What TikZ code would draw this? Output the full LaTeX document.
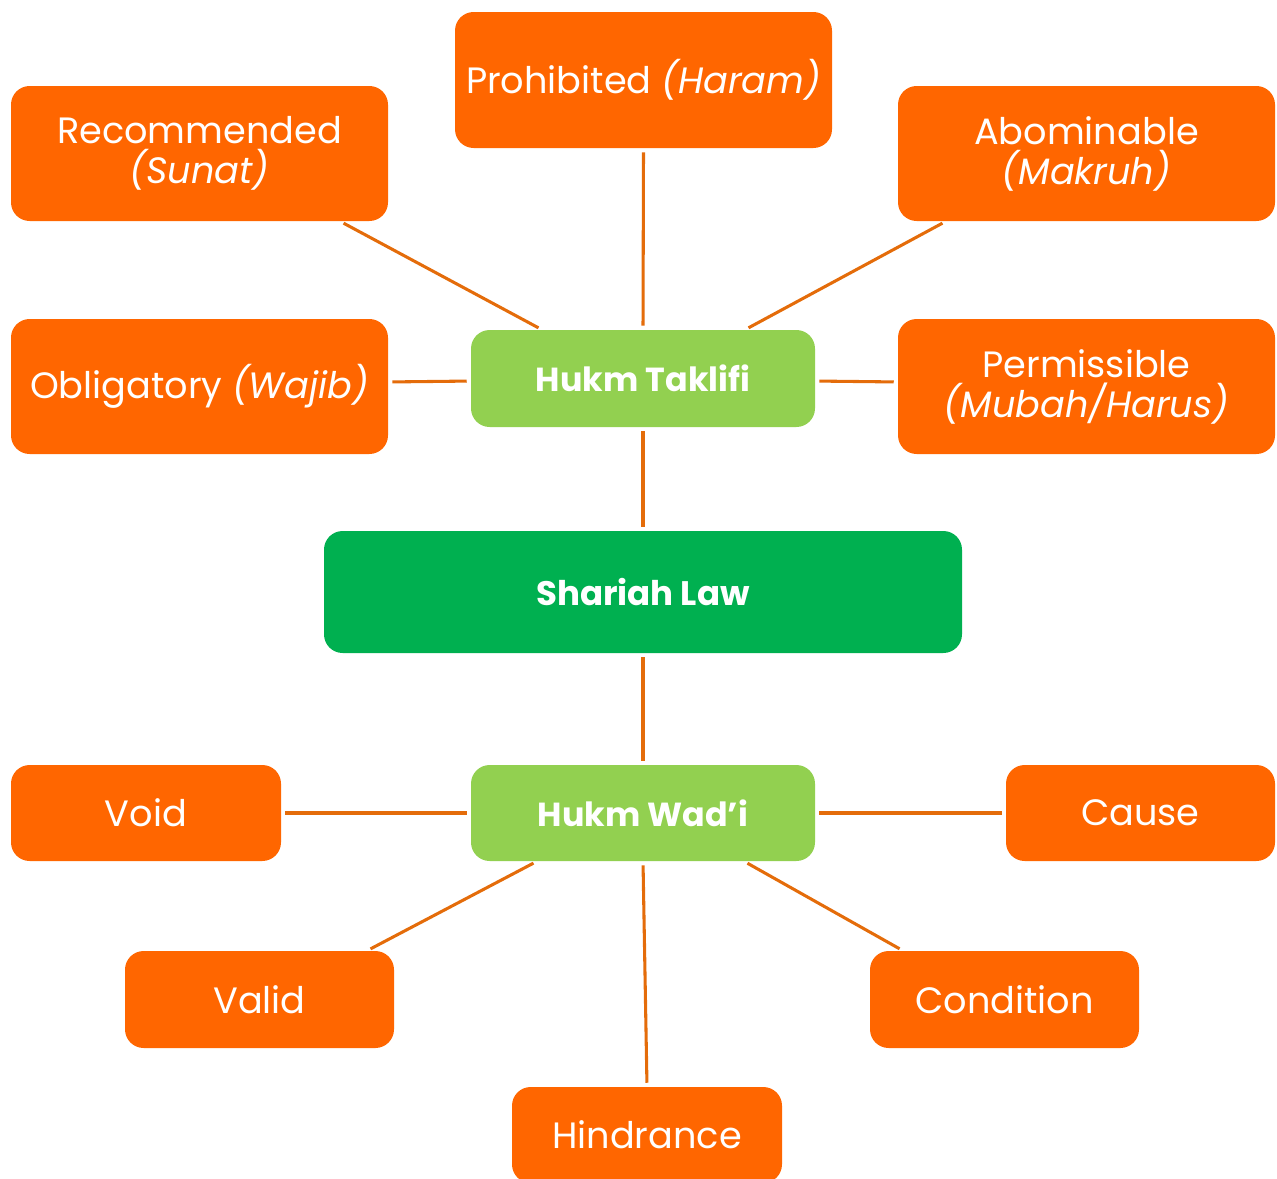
\documentclass[tikz,border=0pt]{standalone}
\usepackage{fontspec}
\setmainfont{Poppins}
\usetikzlibrary{calc}
\definecolor{boxorange}{RGB}{255,102,0}
\definecolor{lineorange}{RGB}{228,108,10}
\definecolor{lightgreen}{RGB}{146,208,80}
\definecolor{darkgreen}{RGB}{0,176,80}
\tikzset{
  basebox/.style={rounded corners=14pt, inner sep=0pt, align=center, text=white,
    font=\fontsize{27.5}{30}\selectfont},
  obox/.style={basebox, fill=boxorange},
  gbox/.style={basebox, fill=lightgreen, font=\fontsize{25}{30}\selectfont\bfseries},
  rootbox/.style={basebox, fill=darkgreen, font=\fontsize{25.5}{30}\selectfont\bfseries},
  conn/.style={draw=lineorange, line width=2.3pt, shorten <=3pt, shorten >=3pt}
}
\begin{document}
\begin{tikzpicture}[x=0.75pt,y=-0.75pt]
\useasboundingbox (0,0) rectangle (1277,1178);
\clip (0,0) rectangle (1277,1178);
% top group
\node[obox, minimum width=282.75pt, minimum height=102pt] (pro) at (643.5,80) {Prohibited \textit{(Haram)}};
\node[obox, minimum width=282.75pt, minimum height=101.25pt] (rec) at (199.5,153.5) {Recommended\\\textit{(Sunat)}};
\node[obox, minimum width=282.75pt, minimum height=101.25pt] (abo) at (1086.5,153.5) {Abominable\\\textit{(Makruh)}};
\node[obox, minimum width=282.75pt, minimum height=101.25pt] (obl) at (199.5,386.5) {Obligatory \textit{(Wajib)}};
\node[obox, minimum width=282.75pt, minimum height=101.25pt] (per) at (1086.5,386.5) {Permissible\\\textit{(Mubah/Harus)}};
\node[gbox, minimum width=258pt, minimum height=72.75pt] (tak) at (643,378.5) {Hukm Taklifi};
% root
\node[rootbox, minimum width=478.5pt, minimum height=91.5pt] (sha) at (643,592) {Shariah Law};
% bottom group
\node[gbox, minimum width=258pt, minimum height=72pt] (wad) at (643,813) {Hukm Wad’i};
\node[obox, minimum width=202.5pt, minimum height=72pt] (void) at (146,813) {Void};
\node[obox, minimum width=201.75pt, minimum height=72pt] (cause) at (1140.5,813) {Cause};
\node[obox, minimum width=201.75pt, minimum height=72.75pt] (valid) at (259.5,999.5) {Valid};
\node[obox, minimum width=201.75pt, minimum height=72.75pt] (cond) at (1004.5,999.5) {Condition};
\node[obox, minimum width=202.5pt, minimum height=72pt] (hin) at (647,1135) {Hindrance};
% connectors
\draw[conn] (pro.south) -- (tak.north);
\draw[conn] ([xshift=105.4pt]rec.south) -- ([xshift=-75.75pt]tak.north);
\draw[conn] ([xshift=-105.4pt]abo.south) -- ([xshift=76.5pt]tak.north);
\draw[conn] ([yshift=3.4pt]obl.east) -- ([yshift=-1.9pt]tak.west);
\draw[conn] ([yshift=3.4pt]per.west) -- ([yshift=-1.9pt]tak.east);
\draw[conn] (tak.south) -- (sha.north);
\draw[conn] (sha.south) -- (wad.north);
\draw[conn] (void.east) -- (wad.west);
\draw[conn] (cause.west) -- (wad.east);
\draw[conn] ([xshift=80.6pt]valid.north) -- ([xshift=-79.5pt]wad.south);
\draw[conn] ([xshift=-76.1pt]cond.north) -- ([xshift=75.75pt]wad.south);
\draw[conn] (hin.north) -- (wad.south);
\end{tikzpicture}
\end{document}
